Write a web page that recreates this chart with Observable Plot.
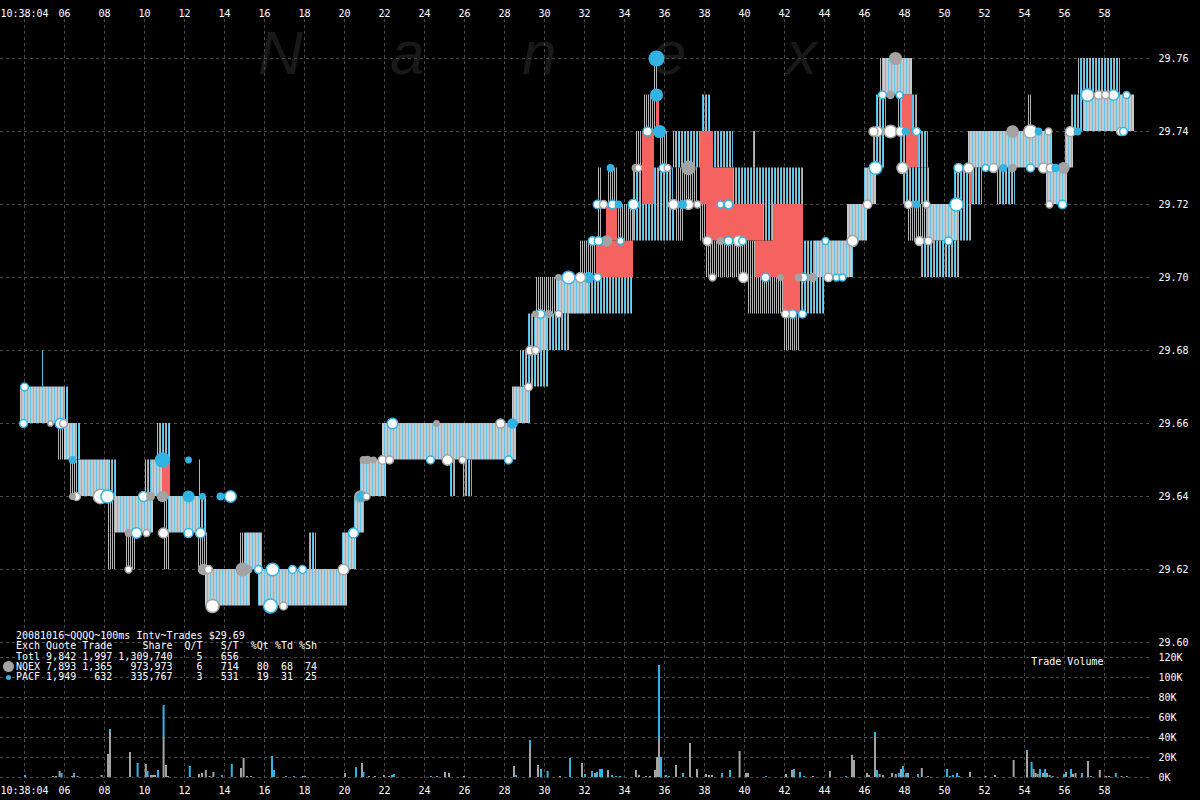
<!DOCTYPE html>
<html><head><meta charset="utf-8">
<script src="https://cdn.jsdelivr.net/npm/d3@7"></script>
<script src="https://cdn.jsdelivr.net/npm/@observablehq/plot@0.6"></script>
<style>
html,body{margin:0;padding:0;background:#000;}
#wrap{position:relative;width:1200px;height:800px;overflow:hidden;background:#000;}
#wrap svg.layer{position:absolute;left:0;top:0;}
.wm{position:absolute;top:22px;font-family:"Liberation Sans",Arial,sans-serif;font-style:italic;font-size:62px;line-height:62px;color:#191919;}
#legend{position:absolute;left:16px;top:631px;margin:0;font-family:"DejaVu Sans Mono",monospace;font-size:10px;line-height:10.3px;color:#fff;white-space:pre;}
.ldot{position:absolute;border-radius:50%;}
</style></head>
<body>
<svg width="0" height="0" style="position:absolute">
  <defs>
    <pattern id="pq" patternUnits="userSpaceOnUse" x="0" y="0" width="3" height="4">
      <rect x="0" y="0" width="3" height="4" fill="#c6c8c9" shape-rendering="crispEdges"/>
      <rect x="0" y="0" width="1" height="4" fill="#5ec4ea" shape-rendering="crispEdges"/>
    </pattern>
    <pattern id="pg" patternUnits="userSpaceOnUse" x="0" y="0" width="2" height="4">
      <rect x="0" y="0" width="1" height="4" fill="#b4b4b4" shape-rendering="crispEdges"/>
    </pattern>
    <pattern id="pb" patternUnits="userSpaceOnUse" x="0" y="0" width="3" height="4">
      <rect x="0" y="0" width="1" height="4" fill="#4ec0e8" shape-rendering="crispEdges"/>
      <rect x="1" y="0" width="1" height="4" fill="#b4b8ba" shape-rendering="crispEdges"/>
    </pattern>
  </defs>
</svg>
<div id="wrap">
  <div class="wm" style="left:258px">N</div>
  <div class="wm" style="left:390px">a</div>
  <div class="wm" style="left:522px">n</div>
  <div class="wm" style="left:652px">e</div>
  <div class="wm" style="left:786px">x</div>
</div>
<script>
// ---------- data ----------
const secondTicks = [4,6,8,10,12,14,16,18,20,22,24,26,28,30,32,34,36,38,40,42,44,46,48,50,52,54,56,58];
const secondLabels = ["10:38:04","06","08","10","12","14","16","18","20","22","24","26","28","30","32","34","36","38","40","42","44","46","48","50","52","54","56","58"];
const priceTicks = [29.60,29.62,29.64,29.66,29.68,29.70,29.72,29.74,29.76];
const volumeTicks = [0,20,40,60,80,100,120];

// quote spread segments: [kind, t0 (s), t1 (s), bid, ask]
const quoteSegments = [
 ["both",3.8,5.95,29.66,29.67],["pa",5.95,6.2,29.66,29.67],["pa",4.85,4.95,29.67,29.68],
 ["nq",5.7,6.0,29.65,29.66],["both",6.0,6.55,29.65,29.66],["pa",6.55,6.8,29.65,29.66],
 ["nq",6.3,6.7,29.64,29.65],["both",6.7,8.3,29.64,29.65],["pa",8.3,8.65,29.64,29.65],
 ["nq",8.2,8.55,29.63,29.64],["both",8.55,10.45,29.63,29.64],["nq",8.2,8.55,29.62,29.63],
 ["nq",9.1,9.55,29.62,29.63],["pa",10.05,10.4,29.64,29.65],["both",10.4,10.9,29.64,29.65],
 ["cross",10.9,11.3,29.64,29.65],["pa",10.65,11.3,29.65,29.66],["nq",10.95,11.2,29.63,29.64],
 ["both",11.2,12.8,29.63,29.64],["pa",12.8,13.15,29.63,29.64],["nq",10.95,11.3,29.62,29.63],
 ["nq",12.7,13.15,29.62,29.63],["pa",12.75,12.8,29.64,29.65],["both",13.05,15.3,29.61,29.62],
 ["nq",14.8,15.05,29.62,29.63],["both",15.05,15.9,29.62,29.63],["both",15.7,20.15,29.61,29.62],
 ["pa",18.25,18.6,29.62,29.63],["both",19.9,20.6,29.62,29.63],["both",20.5,21.0,29.63,29.64],
 ["both",20.8,22.1,29.64,29.65],["both",21.9,28.6,29.65,29.66],["pa",25.25,25.6,29.64,29.65],
 ["pa",25.95,26.4,29.64,29.65],["both",28.4,29.3,29.66,29.67],["pa",28.8,30.2,29.67,29.68],
 ["pa",29.15,29.55,29.68,29.69],["both",29.55,30.15,29.68,29.69],["pa",30.15,31.3,29.68,29.69],
 ["nq",29.6,30.6,29.69,29.70],["both",30.6,32.2,29.69,29.70],["pa",32.2,34.45,29.69,29.70],
 ["nq",31.8,32.65,29.70,29.71],["cross",32.6,34.45,29.70,29.71],["nq",32.7,32.85,29.71,29.73],
 ["nq",33.15,33.7,29.72,29.73],["cross",33.1,33.65,29.71,29.72],["nq",33.65,34.45,29.71,29.72],
 ["pa",34.45,36.55,29.71,29.72],["pa",34.45,34.95,29.72,29.73],["cross",34.9,35.5,29.72,29.74],
 ["nq",34.6,34.95,29.73,29.74],["nq",34.95,35.8,29.74,29.75],["cross",35.6,35.75,29.74,29.75],
 ["nq",35.5,35.7,29.75,29.76],["pa",35.5,36.45,29.72,29.73],["nq",35.8,36.15,29.73,29.74],
 ["pa",36.45,37.8,29.73,29.74],["nq",36.55,37.65,29.72,29.73],["nq",36.55,36.95,29.71,29.72],
 ["cross",37.8,38.45,29.72,29.74],["pa",37.85,38.35,29.74,29.75],["pa",38.3,38.35,29.75,29.76],
 ["cross",38.45,39.45,29.72,29.73],["pa",38.45,39.45,29.73,29.74],["cross",38.1,40.95,29.71,29.72],
 ["nq",37.8,38.1,29.71,29.72],["pa",39.45,42.95,29.72,29.73],["pa",40.45,40.55,29.73,29.74],
 ["nq",38.1,40.55,29.70,29.71],["cross",40.55,41.95,29.70,29.71],["nq",40.2,41.95,29.69,29.70],
 ["pa",40.95,41.45,29.71,29.72],["cross",41.45,42.95,29.70,29.72],["cross",41.95,42.8,29.69,29.70],
 ["nq",41.95,42.8,29.68,29.69],["pa",42.8,43.55,29.70,29.71],["pa",42.8,44.05,29.69,29.70],
 ["both",43.55,45.45,29.70,29.71],["both",45.15,46.15,29.71,29.72],["both",46.0,46.6,29.72,29.73],
 ["pa",46.4,47.05,29.73,29.74],["pa",46.6,47.1,29.74,29.75],["nq",46.8,46.95,29.75,29.76],
 ["both",46.95,48.4,29.75,29.76],["pa",47.7,48.7,29.74,29.75],["cross",47.9,48.4,29.74,29.75],
 ["pa",47.8,49.2,29.73,29.74],["cross",48.1,48.7,29.73,29.74],["pa",47.9,49.3,29.72,29.73],
 ["nq",48.2,49.15,29.71,29.72],["both",49.15,50.7,29.71,29.72],["pa",50.7,51.4,29.71,29.72],
 ["pa",48.8,50.8,29.70,29.71],["pa",50.5,51.9,29.72,29.73],["cross",51.3,51.4,29.72,29.73],
 ["both",51.2,55.4,29.73,29.74],["pa",52.65,53.55,29.72,29.73],["nq",54.15,54.4,29.74,29.75],
 ["both",55.1,56.15,29.72,29.73],["both",56.05,56.45,29.73,29.74],["pa",56.3,56.95,29.74,29.75],
 ["pa",56.7,58.8,29.75,29.76],["both",56.95,59.5,29.74,29.75]
];

// trades: [t (s), price, exchange, shares, iso flag]
const trades = [
 [4.0,29.67,"P",300,1],[3.95,29.66,"P",300,1],[5.3,29.66,"N",100,1],[5.8,29.66,"P",1000,1],
 [5.95,29.66,"N",300,1],[6.4,29.65,"P",300,0],[6.4,29.64,"N",200,0],[6.6,29.64,"N",300,1],
 [7.8,29.64,"N",5000,1],[8.15,29.64,"P",3000,1],[9.2,29.62,"N",200,1],[9.2,29.63,"N",300,0],
 [9.6,29.63,"P",1000,1],[10.1,29.63,"N",200,1],[9.95,29.64,"P",800,1],[10.3,29.64,"N",500,0],
 [10.9,29.64,"N",1500,0],[10.9,29.65,"P",8000,0],[12.2,29.65,"P",200,0],[12.2,29.64,"P",2000,0],
 [12.9,29.64,"P",200,0],[13.8,29.64,"P",300,0],[14.3,29.64,"P",1500,1],[10.95,29.63,"N",800,1],
 [12.2,29.63,"P",500,1],[12.8,29.63,"P",800,1],[12.95,29.62,"N",1500,0],[13.2,29.62,"N",300,1],
 [13.4,29.61,"N",3000,1],[14.9,29.62,"N",4000,0],[15.2,29.62,"N",300,0],[15.7,29.62,"P",300,1],
 [16.4,29.62,"P",2500,1],[17.4,29.62,"P",300,1],[17.9,29.62,"P",300,1],[16.3,29.61,"P",4000,1],
 [16.95,29.61,"N",300,1],[19.95,29.62,"N",1000,1],[20.45,29.63,"P",800,1],[20.8,29.64,"N",2500,0],
 [20.85,29.64,"P",800,0],[21.1,29.64,"N",200,1],[20.95,29.65,"N",300,0],[21.15,29.65,"N",400,0],
 [21.45,29.65,"N",200,0],[21.9,29.65,"N",400,1],[22.25,29.65,"N",300,1],[22.4,29.66,"P",1000,1],
 [24.6,29.66,"N",200,0],[24.3,29.65,"P",300,1],[25.15,29.65,"N",1000,1],[25.9,29.65,"N",200,1],
 [27.8,29.66,"N",500,1],[28.2,29.65,"P",300,1],[28.4,29.66,"P",1000,0],[29.2,29.67,"N",300,1],
 [29.3,29.68,"N",500,1],[29.55,29.68,"N",300,1],[29.55,29.69,"N",200,0],[29.8,29.69,"P",400,1],
 [30.2,29.69,"N",300,0],[30.7,29.69,"N",200,1],[30.7,29.70,"N",200,0],[31.2,29.70,"P",2500,1],
 [31.8,29.70,"N",800,1],[32.2,29.70,"P",1500,0],[32.65,29.70,"P",300,1],[32.4,29.71,"P",400,1],
 [32.7,29.71,"P",400,1],[33.1,29.71,"N",1500,0],[33.8,29.71,"P",200,1],[32.65,29.72,"P",400,1],
 [32.95,29.72,"N",300,1],[33.4,29.72,"P",400,1],[33.7,29.72,"P",300,0],[34.45,29.72,"P",1000,1],
 [33.3,29.73,"P",300,0],[34.55,29.73,"N",300,0],[34.7,29.73,"N",200,1],[35.15,29.74,"P",500,1],
 [35.75,29.74,"P",3000,0],[35.6,29.75,"P",3000,0],[35.6,29.76,"P",10000,0],[35.95,29.73,"P",400,1],
 [36.15,29.73,"N",200,1],[37.2,29.73,"N",5000,0],[36.45,29.72,"N",800,1],[36.9,29.72,"P",500,0],
 [37.2,29.72,"N",800,1],[37.65,29.72,"N",200,1],[38.8,29.72,"P",200,1],[39.2,29.72,"P",400,1],
 [38.15,29.71,"N",500,1],[38.8,29.71,"N",300,0],[39.2,29.71,"P",400,1],[39.7,29.71,"N",1000,1],
 [39.9,29.71,"P",300,1],[38.4,29.70,"N",200,1],[39.95,29.70,"N",800,1],[41.05,29.70,"P",400,1],
 [41.8,29.70,"N",200,0],[42.7,29.70,"N",300,0],[42.95,29.70,"P",400,1],[43.4,29.70,"N",500,0],
 [44.2,29.70,"N",400,1],[44.6,29.70,"P",200,1],[44.9,29.70,"P",200,1],[42.05,29.69,"N",300,1],
 [42.4,29.69,"P",400,1],[42.9,29.69,"P",300,1],[44.05,29.71,"P",200,1],[45.4,29.71,"N",1200,1],
 [46.15,29.72,"N",400,1],[46.55,29.73,"P",2500,1],[46.65,29.74,"N",800,1],[47.3,29.74,"N",2500,1],
 [46.9,29.75,"P",300,1],[47.3,29.75,"N",400,0],[47.75,29.75,"P",200,1],[47.55,29.76,"N",3000,0],
 [46.45,29.74,"N",500,1],[47.8,29.74,"N",600,1],[48.05,29.74,"P",300,0],[48.6,29.74,"P",300,1],
 [47.9,29.73,"N",1200,1],[48.2,29.72,"N",300,1],[48.6,29.72,"P",300,0],[49.1,29.72,"N",200,1],
 [50.6,29.72,"P",3000,1],[48.75,29.71,"N",500,1],[49.2,29.71,"N",300,1],[50.2,29.71,"P",300,1],
 [50.7,29.73,"P",500,1],[51.2,29.73,"N",800,1],[52.05,29.73,"P",200,1],[52.45,29.73,"N",500,1],
 [52.95,29.73,"P",300,0],[53.4,29.73,"N",400,0],[53.4,29.74,"N",2500,0],[54.3,29.74,"N",3000,1],
 [54.7,29.74,"P",300,0],[55.2,29.74,"N",200,1],[54.3,29.73,"P",300,1],[54.95,29.73,"N",800,1],
 [55.3,29.73,"N",400,1],[55.55,29.73,"P",400,0],[55.95,29.73,"N",2000,0],[55.25,29.72,"N",200,1],
 [55.9,29.72,"P",400,1],[56.3,29.74,"N",800,1],[56.65,29.74,"P",300,0],[57.15,29.75,"P",2500,1],
 [57.7,29.75,"N",400,1],[58.05,29.75,"N",300,1],[58.45,29.75,"P",1000,1],[59.1,29.75,"P",200,1],
 [58.8,29.74,"N",300,1],[58.95,29.74,"P",300,1]
];

// trade volume per 100ms: [t (s), NQEX K shares, PACF K shares]
const volumeBars = [
 [4.0,0,2],[5.4,1,0],[5.55,1,0],[5.73,6,0],[5.83,0,4],[6.35,1,0],[6.45,0,4],[6.63,1,0],
 [7.83,2,0],[8.15,23,0],[8.25,45,3],[9.25,25,0],[9.63,0,14],[10.04,13,0],[10.13,0,6],
 [10.3,2,0],[10.4,2,0],[10.5,2,0],[10.65,0,7],[10.93,40,32],[11.05,12,0],[11.15,1,0],
 [12.24,0,11],[12.7,3,0],[12.85,4,0],[13.04,7,0],[13.23,1,0],[13.42,5,0],[13.84,0,2],
 [14.34,0,13],[14.8,9,0],[14.93,19,0],[15.1,1,0],[15.3,1,0],[16.35,0,21],[16.45,0,7],
 [17.05,1,0],[17.44,0,1],[17.9,0,1],[18.0,1,0],[20.0,4,0],[20.55,0,10],[20.85,14,0],
 [20.92,0,5],[21.2,1,0],[21.5,1,0],[21.95,2,0],[22.2,1,0],[22.35,0,2],[22.45,0,3],
 [24.3,0,1],[24.6,0,1],[25.0,5,0],[25.2,4,0],[25.95,1,0],[28.45,11,0],[28.55,0,2],
 [29.25,30,7],[29.65,12,0],[29.8,0,8],[30.13,0,6],[30.75,1,0],[31.25,0,19],[31.85,14,0],
 [32.0,0,3],[32.35,0,6],[32.5,4,0],[32.6,0,5],[32.75,0,8],[32.85,0,8],[33.15,7,0],
 [33.35,0,2],[33.55,0,1],[33.75,0,1],[34.55,7,0],[34.7,2,0],[35.05,1,0],[35.25,1,0],
 [35.5,7,0],[35.6,20,0],[35.7,38,74],[35.8,0,20],[36.05,0,2],[36.2,0,1],[36.55,12,0],
 [36.9,0,4],[37.25,34,0],[37.6,8,0],[38.05,3,0],[38.2,2,0],[38.35,2,0],[38.85,0,4],
 [39.25,0,7],[39.73,26,0],[40.05,4,0],[40.15,4,0],[41.05,0,1],[42.05,3,0],[42.35,7,0],
 [42.45,0,8],[42.75,0,5],[42.95,0,1],[43.4,1,0],[44.25,6,0],[45.05,0,1],[45.35,22,0],
 [45.45,17,0],[46.1,4,0],[46.2,2,0],[46.5,40,5],[46.6,0,7],[46.73,3,0],[46.9,2,0],
 [47.35,4,0],[47.54,3,0],[47.69,0,4],[47.8,8,0],[47.9,0,11],[48.05,0,4],[48.15,4,0],
 [48.65,0,3],[48.84,9,0],[49.15,1,0],[50.1,0,8],[50.25,0,1],[50.4,0,2],[50.6,0,4],
 [50.7,0,1],[51.25,5,0],[52.03,1,0],[52.5,2,0],[53.43,17,0],[54.1,25,2],[54.33,0,15],
 [54.43,8,0],[54.53,4,0],[54.63,3,0],[54.75,0,8],[54.9,4,0],[55.0,0,8],[55.1,4,0],
 [55.23,2,0],[55.38,1,0],[55.95,0,3],[56.05,5,0],[56.3,0,8],[56.4,3,0],[56.53,4,0],
 [56.85,0,4],[57.15,16,0],[57.3,0,1],[57.74,7,0],[58.05,1,0],[58.2,1,0],[58.54,0,4],
 [58.83,1,0],[59.1,0,1]
];

const legendLines = [
 "20081016~QQQQ~100ms Intv~Trades $29.69",
 "Exch Quote Trade     Share  Q/T   S/T  %Qt %Td %Sh",
 "Totl 9,842 1,997 1,309,740    5   656",
 "NQEX 7,893 1,365   973,973    6   714   80  68  74",
 "PACF 1,949   632   335,767    3   531   19  31  25"
];

// ---------- build ----------
const GRAY = "#a3a3a3", BLUE = "#31b4e4", RED = "#f4635f", GRID = "#4a4a4a";
const fillFor = {both: "url(#pq)", nq: "url(#pg)", pa: "url(#pb)", cross: RED};
const order = {nq: 0, pa: 1, both: 2, cross: 3};
const segs = quoteSegments.map(([k,t0,t1,lo,hi]) => ({k,t0,t1,lo,hi})).sort((a,b) => order[a.k]-order[b.k]);
const tradeRows = trades.map(([t,p,ex,sh,iso]) => ({t,p,ex,sh,iso}));
const volRows = volumeBars.map(([t,n,p]) => ({t,n,p}));
const xLabels = secondTicks.map((t,i) => ({t, label: secondLabels[i]}));
const exColor = ex => ex === "N" ? GRAY : BLUE;

const baseStyle = {background: "transparent", color: "white", fontFamily: "'DejaVu Sans Mono', monospace", fontSize: "10px", overflow: "visible"};
const xOpts = {domain: [2.8, 60.4], axis: null};

const pricePlot = Plot.plot({
  width: 1200, height: 800,
  marginLeft: 0, marginRight: 48, marginTop: 58, marginBottom: 158,
  x: xOpts,
  y: {domain: [29.60, 29.76], label: null},
  color: {type: "identity"},
  r: {type: "log", domain: [100, 10000], range: [2.6, 8]},
  style: baseStyle,
  marks: [
    Plot.ruleX(secondTicks, {x: d => d, stroke: GRID, strokeDasharray: "3,3", insetTop: -45, insetBottom: -141}),
    Plot.ruleY(priceTicks, {y: d => d, stroke: GRID, strokeDasharray: "3,3"}),
    Plot.rect(segs, {x1: "t0", x2: "t1", y1: "lo", y2: "hi", fill: d => fillFor[d.k]}),
    Plot.dot(tradeRows, {x: "t", y: "p", r: "sh",
      fill: d => d.iso ? "white" : exColor(d.ex),
      stroke: d => d.iso ? exColor(d.ex) : "none",
      strokeWidth: 1.5}),
    Plot.axisY(priceTicks, {anchor: "right", label: null, tickSize: 0, tickPadding: 6, tickFormat: d3.format(".2f")}),
    Plot.text(xLabels, {x: "t", text: "label", frameAnchor: "top", dy: -49, fill: "white"})
  ]
});

const volumePlot = Plot.plot({
  width: 1200, height: 800,
  marginLeft: 0, marginRight: 48, marginTop: 657, marginBottom: 23,
  x: xOpts,
  y: {domain: [0, 120], label: null},
  style: baseStyle,
  marks: [
    Plot.ruleY(volumeTicks, {y: d => d, stroke: GRID, strokeDasharray: "3,3"}),
    Plot.rect(volRows.filter(d => d.n > 0), {x1: "t", x2: d => d.t + 0.1, y1: 0, y2: "n", fill: GRAY}),
    Plot.rect(volRows.filter(d => d.p > 0), {x1: "t", x2: d => d.t + 0.1, y1: "n", y2: d => d.n + d.p, fill: BLUE}),
    Plot.axisY(volumeTicks, {anchor: "right", label: null, tickSize: 0, tickPadding: 6, tickFormat: d => d + "K"}),
    Plot.text(["Trade Volume"], {text: d => d, frameAnchor: "top-right", dx: -49, textAnchor: "end", fill: "white"}),
    Plot.text(xLabels, {x: "t", text: "label", frameAnchor: "bottom", dy: 16, fill: "white"})
  ]
});

const wrap = document.getElementById("wrap");
for (const svg of [pricePlot, volumePlot]) {
  svg.classList.add("layer");
  svg.style.position = "absolute"; svg.style.left = "0px"; svg.style.top = "0px";
  wrap.appendChild(svg);
}
const legend = document.createElement("pre");
legend.id = "legend";
legend.textContent = legendLines.join("\n");
wrap.appendChild(legend);
const d1 = document.createElement("div");
d1.className = "ldot"; Object.assign(d1.style, {left: "3px", top: "661px", width: "11px", height: "11px", background: GRAY});
const d2 = document.createElement("div");
d2.className = "ldot"; Object.assign(d2.style, {left: "6px", top: "675px", width: "5px", height: "5px", background: BLUE});
wrap.appendChild(d1); wrap.appendChild(d2);
</script>
</body></html>
